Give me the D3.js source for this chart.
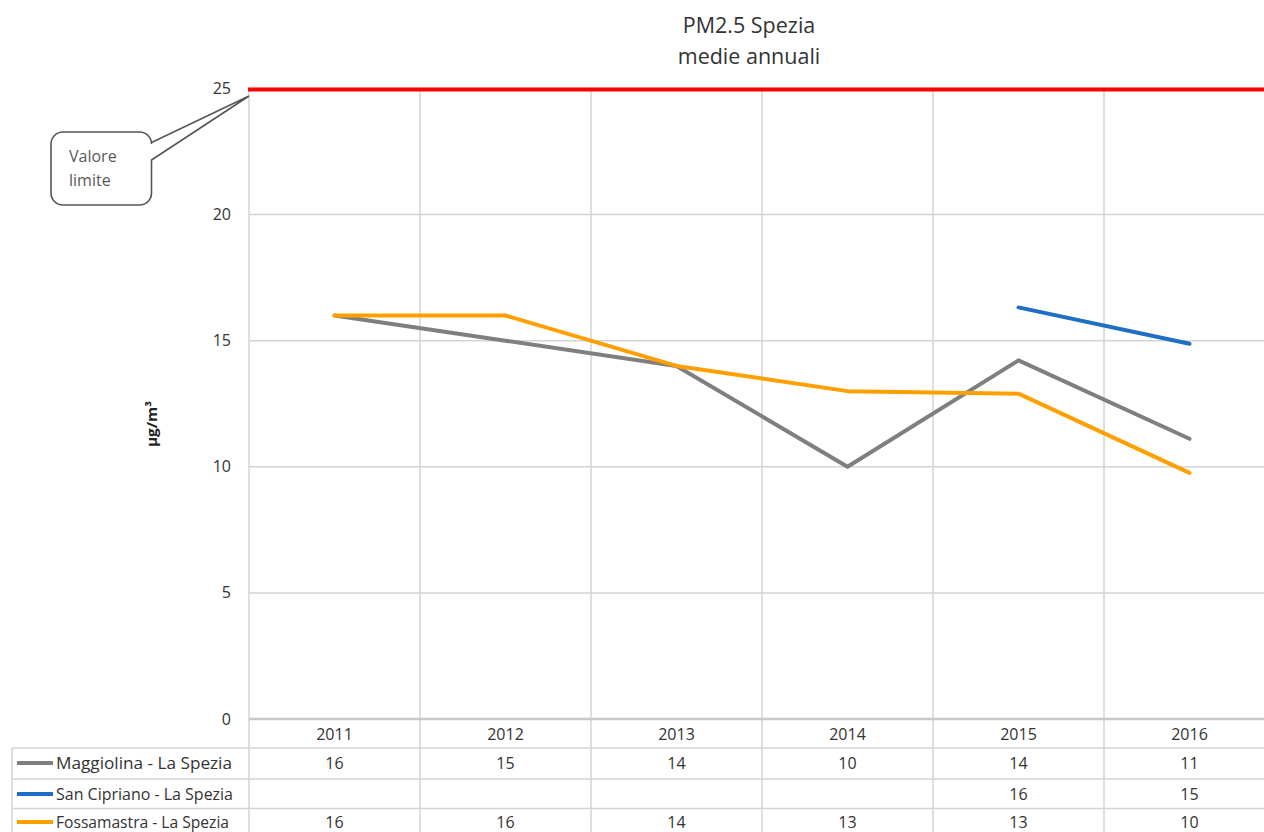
<!DOCTYPE html>
<html><head><meta charset="utf-8">
<script src="https://cdn.jsdelivr.net/npm/d3@7"></script>
<style>
html,body{margin:0;padding:0;background:#fff;overflow:hidden;}
svg{display:block;font-family:"Open Sans","Liberation Sans",sans-serif;}
</style></head>
<body>
<svg id="c" width="1264" height="832"></svg>
<script>
const years = ["2011","2012","2013","2014","2015","2016"];
const maggiolina = [16, 15, 14, 10, 14.22, 11.11];
const sanCipriano = [null, null, null, null, 16.32, 14.88];
const fossamastra = [16, 16, 14, 13, 12.9, 9.76];
const seriesNames = ["Maggiolina - La Spezia","San Cipriano - La Spezia","Fossamastra - La Spezia"];
const seriesColors = ["#7f7f7f","#1f6fc4","#ffa000"];
const yTicks = [0,5,10,15,20,25];
const limitValue = 25;
const titleLines = ["PM2.5 Spezia","medie annuali"];
const calloutLines = ["Valore","limite"];

(function(){
const series = [maggiolina, sanCipriano, fossamastra];
const svg = d3.select("#c");
const plotLeft = 249, bandW = 171, plotTop = 88.5, plotBottom = 719;
const x = d3.scaleBand().domain(years).range([plotLeft, plotLeft + bandW*years.length]).padding(0);
const y = d3.scaleLinear().domain([0,25]).range([plotBottom, plotTop]);
const grid = "#d4d4d4";
const txt = "#333";

// title
svg.append("g").selectAll("text").data(titleLines).join("text")
  .attr("x", 749).attr("y",(d,i)=>33+i*31).attr("text-anchor","middle")
  .attr("font-size",21.5).attr("fill",txt).text(d=>d);

// horizontal gridlines
svg.append("g").selectAll("line").data(yTicks.filter(t=>t>0)).join("line")
  .attr("x1",plotLeft).attr("x2",1264).attr("y1",d=>y(d)).attr("y2",d=>y(d))
  .attr("stroke",grid).attr("stroke-width",1.5);

// vertical lines (category separators), through the table
const seps = years.map(d=>x(d)).concat([x(years[years.length-1])+bandW]);
svg.append("g").selectAll("line").data(seps).join("line")
  .attr("x1",d=>d).attr("x2",d=>d).attr("y1",plotTop).attr("y2",832)
  .attr("stroke",grid).attr("stroke-width",1.5);

// y tick labels
svg.append("g").selectAll("text").data(yTicks).join("text")
  .attr("x",231).attr("y",d=>y(d)+5.5).attr("text-anchor","end")
  .attr("font-size",16).attr("fill",txt).text(d=>d);

// y label
svg.append("text").attr("transform","translate(157,424) rotate(-90)")
  .attr("text-anchor","middle").attr("font-size",15).attr("font-weight","bold")
  .attr("textLength",46).attr("lengthAdjust","spacingAndGlyphs")
  .attr("fill","#222").text("µg/m³");

// table rows
const rowLines = [748, 779, 808.5];
svg.append("g").selectAll("line").data(rowLines).join("line")
  .attr("x1",12).attr("x2",1264).attr("y1",d=>d).attr("y2",d=>d)
  .attr("stroke",grid).attr("stroke-width",1.5);
svg.append("line").attr("x1",12).attr("x2",12).attr("y1",748).attr("y2",832)
  .attr("stroke",grid).attr("stroke-width",1.5);
// x axis
svg.append("line").attr("x1",plotLeft).attr("x2",1264).attr("y1",plotBottom).attr("y2",plotBottom)
  .attr("stroke","#c8c8c8").attr("stroke-width",2.5);

// year labels
svg.append("g").selectAll("text").data(years).join("text")
  .attr("x",d=>x(d)+bandW/2).attr("y",740).attr("text-anchor","middle")
  .attr("font-size",16).attr("fill",txt).text(d=>d);

// legend + values
const rowBase = [769, 800, 828];
const fmt = d3.format(".0f");
series.forEach((s,i)=>{
  const g = svg.append("g");
  g.append("line").attr("x1",17).attr("x2",53).attr("y1",rowBase[i]-6).attr("y2",rowBase[i]-6)
    .attr("stroke",seriesColors[i]).attr("stroke-width",4);
  g.append("text").attr("x",56).attr("y",rowBase[i]).attr("font-size",16).attr("fill",txt)
    .attr("textLength", 176 - (i===1?-1:i===2?3:0)).attr("lengthAdjust","spacingAndGlyphs")
    .text(seriesNames[i]);
  g.selectAll("text.v").data(years.map((yr,j)=>({yr,v:s[j]})).filter(d=>d.v!=null)).join("text")
    .attr("class","v").attr("x",d=>x(d.yr)+bandW/2).attr("y",rowBase[i]).attr("text-anchor","middle")
    .attr("font-size",16).attr("fill",txt).text(d=>fmt(d.v));
});

// limit line
svg.append("line").attr("x1",plotLeft-1).attr("x2",1264).attr("y1",y(limitValue)+1).attr("y2",y(limitValue)+1)
  .attr("stroke","#ff0000").attr("stroke-width",4);

// series lines
const line = d3.line().defined(d=>d.v!=null).x(d=>x(d.yr)+bandW/2).y(d=>y(d.v));
series.forEach((s,i)=>{
  svg.append("path").datum(years.map((yr,j)=>({yr,v:s[j]})))
    .attr("d",line).attr("fill","none").attr("stroke",seriesColors[i])
    .attr("stroke-width",4).attr("stroke-linejoin","round").attr("stroke-linecap","round");
});

// callout
const tip = [249, 96];
const cp = d3.path();
const bx0=51, by0=132, bx1=151.5, by1=205, r=12;
cp.moveTo(bx0+r,by0);
cp.lineTo(bx1-r,by0);
cp.arcTo(bx1,by0,bx1,by0+r,r);
cp.lineTo(bx1,142.5);
cp.lineTo(tip[0],tip[1]);
cp.lineTo(bx1,160);
cp.lineTo(bx1,by1-r);
cp.arcTo(bx1,by1,bx1-r,by1,r);
cp.lineTo(bx0+r,by1);
cp.arcTo(bx0,by1,bx0,by1-r,r);
cp.lineTo(bx0,by0+r);
cp.arcTo(bx0,by0,bx0+r,by0,r);
cp.closePath();
svg.append("path").attr("d",cp.toString()).attr("fill","#fff").attr("stroke","#555").attr("stroke-width",1.6);
svg.append("g").selectAll("text").data(calloutLines).join("text")
  .attr("x",69).attr("y",(d,i)=>162+i*24).attr("font-size",16).attr("fill","#595959").text(d=>d);
})();
</script>
</body></html>
